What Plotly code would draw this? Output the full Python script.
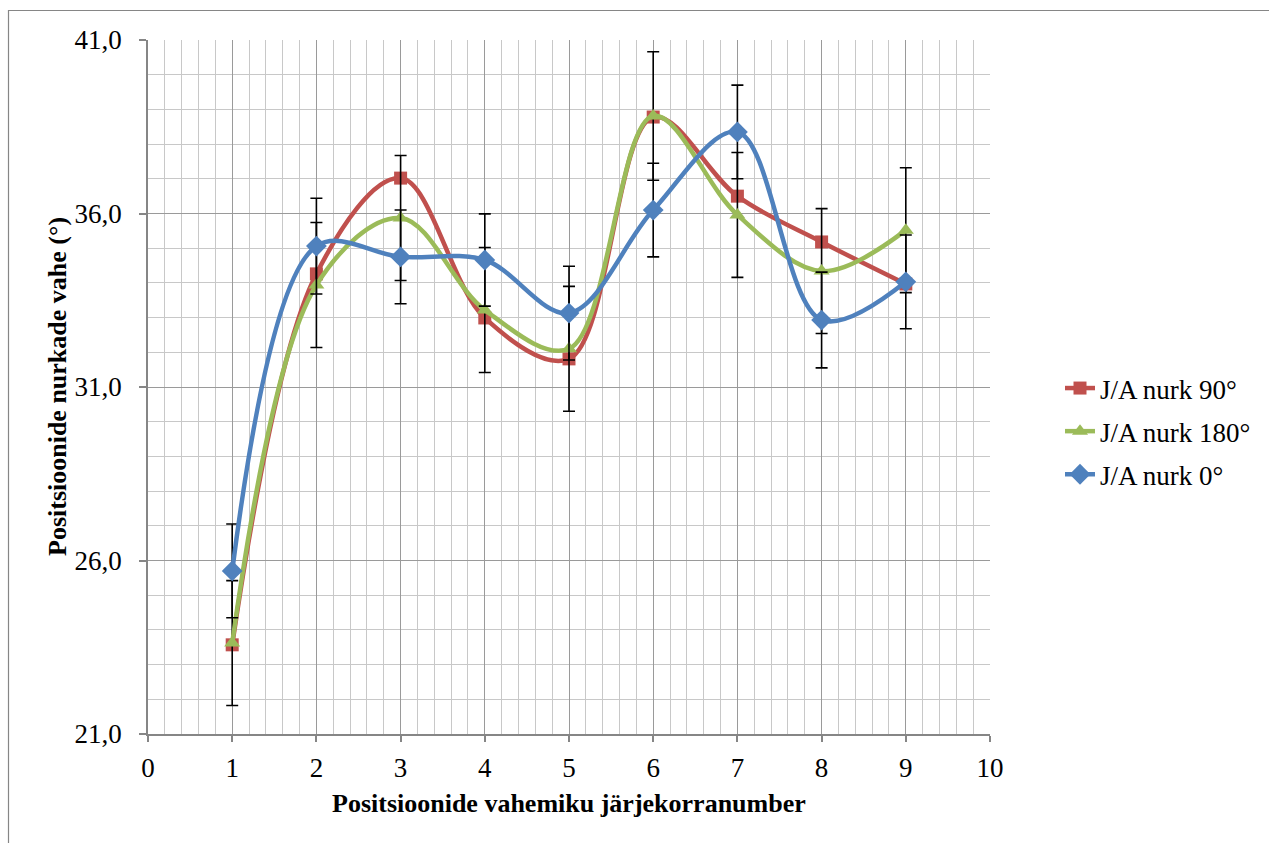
import plotly.graph_objects as go

x_vals = [1, 2, 3, 4, 5, 6, 7, 8, 9]
nurk_90 = [23.57, 34.26, 37.02, 32.99, 31.81, 38.78, 36.50, 35.18, 33.97]
nurk_180 = [23.62, 33.94, 35.87, 33.22, 32.10, 38.81, 35.96, 34.34, 35.52]
nurk_0 = [25.70, 35.06, 34.75, 34.66, 33.13, 36.10, 38.35, 32.93, 34.03]
err_180 = [1.8, 1.8, 1.8, 1.8, 1.8, 1.85, 1.8, 1.8, 1.8]
err_0 = [1.35, 1.38, 1.35, 1.33, 1.35, 1.35, 1.35, 1.38, 1.35]

series_names = ["J/A nurk 90°", "J/A nurk 180°", "J/A nurk 0°"]
y_tickvals = [21, 26, 31, 36, 41]
y_ticktext = ["21,0", "26,0", "31,0", "36,0", "41,0"]
x_tickvals = [0, 1, 2, 3, 4, 5, 6, 7, 8, 9, 10]
x_ticktext = ["0", "1", "2", "3", "4", "5", "6", "7", "8", "9", "10"]

RED = "#C0504D"
GREEN = "#9BBB59"
BLUE = "#4F81BD"
FONT = "Liberation Serif"
FS = 26
FS_TICK = 27

fig = go.Figure()

fig.add_trace(go.Scatter(
    x=x_vals, y=nurk_90, name=series_names[0], mode="lines+markers",
    line=dict(color=RED, width=4.5, shape="spline", smoothing=1),
    marker=dict(symbol="square", size=13, color=RED),
    legendgroup="a",
))
fig.add_trace(go.Scatter(
    x=x_vals, y=nurk_180, name=series_names[1], mode="lines+markers",
    line=dict(color=GREEN, width=4.5, shape="spline", smoothing=1),
    marker=dict(symbol="triangle-up", size=14, color=GREEN),
    error_y=dict(type="data", array=err_180, visible=True, color="black", thickness=1.6, width=6),
    legendgroup="b",
))
fig.add_trace(go.Scatter(
    x=x_vals, y=nurk_0, name=series_names[2], mode="lines+markers",
    line=dict(color=BLUE, width=4.5, shape="spline", smoothing=1),
    marker=dict(symbol="diamond", size=16, color=BLUE),
    error_y=dict(type="data", array=err_0, visible=True, color="black", thickness=1.6, width=6),
    legendgroup="c",
))

W, H = 1269, 843
L, R, T, B = 148, 279, 40, 109
pw, ph = W - L - R, H - T - B

def px_to_paper_x(px):
    return (px - L) / pw

def px_to_paper_y(py):
    return (H - B - py) / ph

fig.update_layout(
    width=W, height=H,
    margin=dict(l=L, r=R, t=T, b=B, pad=0),
    paper_bgcolor="white", plot_bgcolor="white",
    font=dict(family=FONT, size=FS, color="black"),
    showlegend=True,
    legend=dict(
        x=px_to_paper_x(1060), y=px_to_paper_y(364), xanchor="left", yanchor="top",
        font=dict(family=FONT, size=FS_TICK, color="black"),
        tracegroupgap=5, bgcolor="rgba(0,0,0,0)", borderwidth=0,
    ),
    xaxis=dict(
        range=[0, 10], tickvals=x_tickvals, ticktext=x_ticktext,
        showline=True, linecolor="#868686", linewidth=1.5,
        ticks="outside", ticklen=6, tickcolor="#868686", tickwidth=1.5,
        showgrid=True, gridcolor="#9A9A9A", gridwidth=1.3,
        minor=dict(dtick=0.2, showgrid=True, gridcolor="#C8C8C8", gridwidth=1),
        zeroline=False, mirror=False, fixedrange=True,
        tickfont=dict(family=FONT, size=FS_TICK),
        ticklabelstandoff=3,
    ),
    yaxis=dict(
        range=[21, 41], tickvals=y_tickvals, ticktext=y_ticktext,
        showline=True, linecolor="#868686", linewidth=1.5,
        ticks="outside", ticklen=7, tickcolor="#868686", tickwidth=1.5,
        showgrid=True, gridcolor="#9A9A9A", gridwidth=1.3,
        minor=dict(dtick=1, tick0=21, showgrid=True, gridcolor="#C8C8C8", gridwidth=1),
        zeroline=False, fixedrange=True,
        tickfont=dict(family=FONT, size=FS_TICK),
        ticklabelstandoff=12,
    ),
    annotations=[
        dict(text="<b>Positsioonide vahemiku järjekorranumber</b>", xref="paper", yref="paper",
             x=px_to_paper_x(569), y=px_to_paper_y(803), xanchor="center", yanchor="middle",
             showarrow=False, font=dict(family=FONT, size=FS, color="black")),
        dict(text="<b>Positsioonide nurkade vahe (°)</b>", xref="paper", yref="paper",
             x=px_to_paper_x(57), y=px_to_paper_y(387), xanchor="center", yanchor="middle",
             textangle=-90, showarrow=False, font=dict(family=FONT, size=FS, color="black")),
    ],
    shapes=[
        dict(type="rect", xref="paper", yref="paper",
             x0=px_to_paper_x(8.5), x1=px_to_paper_x(1290), y0=px_to_paper_y(870), y1=px_to_paper_y(10.5),
             line=dict(color="#868686", width=1.2), fillcolor="rgba(0,0,0,0)", layer="below"),
    ],
)

fig.write_html("out.html")
